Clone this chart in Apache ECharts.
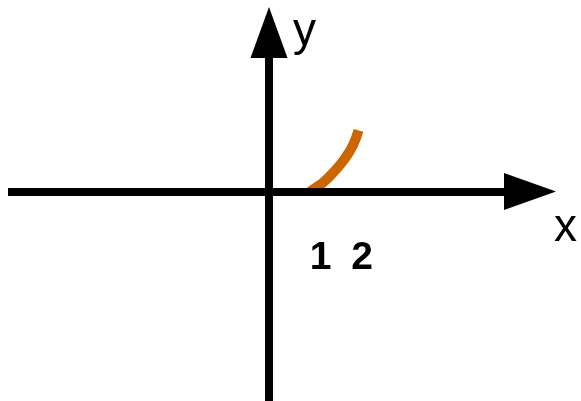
<!DOCTYPE html>
<html>
<head>
    <meta charset="utf-8">
    <title>ECharts</title>
    <script src="https://cdn.jsdelivr.net/npm/echarts@6/dist/echarts.min.js"></script>
    <style>
        html, body { margin: 0; padding: 0; background: #fff; }
    </style>
</head>
<body>
<div id="main" style="width: 581px;height:401px;"></div>

<script type="text/javascript">
    // 曲线上的点
    var curveX = [0.943, 1.103, 1.264, 1.494, 1.747, 1.931, 2.057];
    var curveY = [0, 0.110, 0.225, 0.456, 0.764, 1.070, 1.408];
    // x 轴只标 1 和 2
    var xTickLabels = [1, 2];
    // 坐标范围
    var xRange = [-6, 6];
    var yRange = [-4.82, 3.66];

    var points = [];
    for (var i = 0; i < curveX.length; i++) {
        points.push([curveX[i], curveY[i]]);
    }

    var myChart = echarts.init(document.getElementById('main'));

    myChart.setOption({
        animation: false,
        grid: {
            left: 8,
            right: 51,
            top: 32.5,
            bottom: 0,
            outerBoundsMode: 'none'
        },
        xAxis: {
            type: 'value',
            min: xRange[0],
            max: xRange[1],
            interval: 1,
            z: 5,
            name: 'x',
            nameLocation: 'end',
            nameGap: 24,
            nameTextStyle: {
                fontFamily: 'Liberation Sans',
                fontSize: 46,
                color: '#000',
                verticalAlign: 'top',
                padding: [14, 0, 0, 0]
            },
            axisLine: {
                onZero: true,
                symbol: ['none', 'triangle'],
                symbolSize: [37, 52],
                lineStyle: { color: '#000', width: 8, cap: 'butt' }
            },
            axisTick: { show: false },
            splitLine: { show: false },
            // v6 里标签留在网格底部，所以用 inside 往上放
            axisLabel: {
                inside: true,
                margin: 123,
                color: '#000',
                fontFamily: 'Liberation Sans',
                fontWeight: 'bold',
                fontSize: 39,
                formatter: function (v) {
                    if (v === xTickLabels[0]) return '{a|' + v + '}';
                    if (v === xTickLabels[1]) return '{b|' + v + '}';
                    return '';
                },
                rich: {
                    a: { fontFamily: 'Liberation Sans', fontWeight: 'bold', fontSize: 39, color: '#000', padding: [0, 0, 0, 16] },
                    b: { fontFamily: 'Liberation Sans', fontWeight: 'bold', fontSize: 39, color: '#000', padding: [0, 0, 0, 12] }
                }
            }
        },
        yAxis: {
            type: 'value',
            min: yRange[0],
            max: yRange[1],
            z: 5,
            name: 'y',
            nameLocation: 'end',
            nameGap: 0,
            nameTextStyle: {
                fontFamily: 'Liberation Sans',
                fontSize: 46,
                color: '#000',
                align: 'left',
                verticalAlign: 'middle',
                padding: [7, 0, 0, 24]
            },
            axisLine: {
                onZero: true,
                symbol: ['none', 'triangle'],
                symbolSize: [37, 51],
                lineStyle: { color: '#000', width: 8, cap: 'butt' }
            },
            axisTick: { show: false },
            splitLine: { show: false },
            axisLabel: { show: false }
        },
        series: [
            {
                type: 'line',
                data: points,
                smooth: true,
                symbol: 'none',
                z: 1,
                lineStyle: { color: '#cc6600', width: 10, cap: 'butt' }
            }
        ]
    });
</script>
</body>
</html>
